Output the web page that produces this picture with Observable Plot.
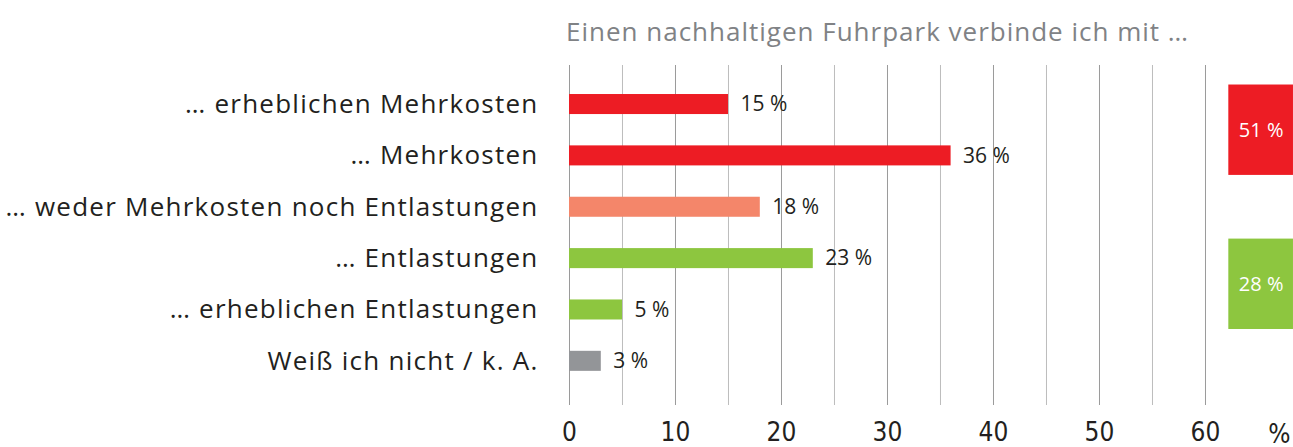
<!DOCTYPE html>
<html><head><meta charset="utf-8">
<script src="https://cdn.jsdelivr.net/npm/d3@7"></script>
<script src="https://cdn.jsdelivr.net/npm/@observablehq/plot@0.6"></script>
<style>
body{margin:0;background:#fff;width:1293px;height:447px;overflow:hidden}
#title{height:58px;line-height:62px;padding-left:566px;font-family:"Open Sans";font-size:26px;letter-spacing:1px;color:#808285;white-space:nowrap}
#chart svg{overflow:visible}
#chart g[aria-label="y-axis tick label"] text{letter-spacing:1.25px}
</style></head><body>
<div id="title">Einen nachhaltigen Fuhrpark verbinde ich mit …</div>
<div id="chart"></div>
<script>
const categories = ["… erheblichen Mehrkosten", "… Mehrkosten", "… weder Mehrkosten noch Entlastungen", "… Entlastungen", "… erheblichen Entlastungen", "Weiß ich nicht / k. A."];
const values = [15, 36, 18, 23, 5, 3];
const colors = ["#ed1c24", "#ed1c24", "#f4866a", "#8dc63f", "#8dc63f", "#939598"];
const groupRows = [[0, 1], [3, 4]];
const groupColors = ["#ed1c24", "#8dc63f"];
const xTicks = [0, 10, 20, 30, 40, 50, 60];
const gridValues = [0, 5, 10, 15, 20, 25, 30, 35, 40, 45, 50, 55, 60];

const rows = categories.map((c, i) => ({i, label: c, value: values[i], color: colors[i]}));
const groups = groupRows.map((r, k) => ({y1: r[0], y2: r[1], total: d3.sum(r, i => values[i]), color: groupColors[k]}));

const half = 0.195;      // bar half-thickness (row units)
const boxPad = 0.38;     // group box padding (row units)
const boxX = [62.2, 68.3];

const chart = Plot.plot({
  width: 1293, height: 389,
  marginLeft: 569, marginRight: 12, marginTop: 7, marginBottom: 42,
  style: {fontFamily: "Open Sans", background: "#fff", overflow: "visible"},
  x: {domain: [0, 67.17], label: null},
  y: {domain: [-0.76, 5.86], reverse: true, label: null},
  color: {type: "identity"},
  marks: [
    Plot.ruleX(gridValues, {stroke: d => d % 10 === 0 ? "#9a9a9a" : "#bdbdbd", strokeWidth: 1}),
    Plot.rectX(rows, {x1: 0, x2: "value", y1: d => d.i - half, y2: d => d.i + half, fill: "color"}),
    Plot.text(rows, {x: "value", y: "i", text: d => d.value + " %", dx: 12, textAnchor: "start", fontSize: 21, fill: "#231f20"}),
    Plot.rect(groups, {x1: boxX[0], x2: boxX[1], y1: d => d.y1 - boxPad, y2: d => d.y2 + boxPad, fill: "color"}),
    Plot.text(groups, {x: (boxX[0] + boxX[1]) / 2, y: d => (d.y1 + d.y2) / 2, text: d => d.total + " %", fill: "white", fontSize: 20}),
    Plot.axisY({ticks: d3.range(categories.length), tickFormat: i => categories[i], tickSize: 0, tickPadding: 31, fontSize: 26, color: "#231f20", label: null}),
    Plot.axisX({ticks: xTicks, tickSize: 0, tickPadding: 17, fontSize: 26, fontFamily: "DejaVu Sans Condensed, Open Sans", color: "#231f20", label: "%", labelAnchor: "right", labelArrow: "none", labelOffset: 37})
  ]
});
document.getElementById("chart").appendChild(chart);
</script>
</body></html>
